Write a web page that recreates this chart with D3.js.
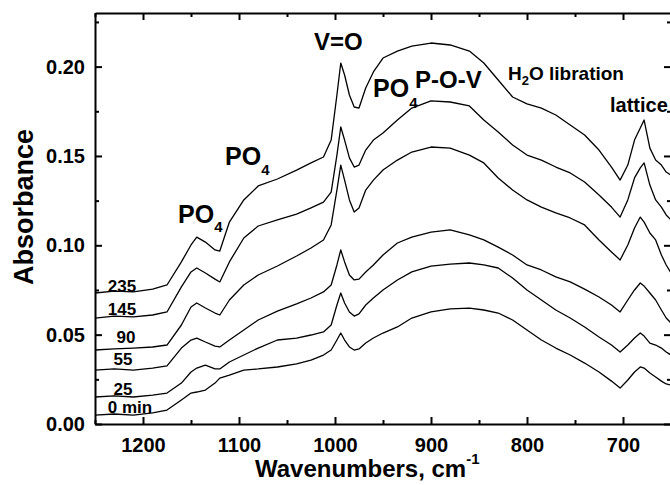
<!DOCTYPE html>
<html>
<head>
<meta charset="utf-8">
<script src="https://cdn.jsdelivr.net/npm/d3@7"></script>
<style>
  body { margin: 0; background: #fff; }
  text { font-family: "Liberation Sans", Arial, sans-serif; font-weight: bold; fill: #000; }
</style>
</head>
<body>
<div id="chart"></div>
<script>
// wavenumber grid (cm-1) shared by all spectra
const wavenumbers = [1250, 1230, 1210, 1190, 1175, 1160, 1150, 1144, 1135, 1125,
  1120, 1110, 1095, 1080, 1060, 1040, 1025, 1012, 1004, 998,
  994, 990, 985, 980, 975, 968, 960, 950, 935, 920,
  900, 880, 860, 845, 830, 815, 800, 785, 770, 755,
  740, 725, 712, 703, 695, 688, 682, 678, 672, 666,
  660, 655, 650];

// absorbance, one array per time (min)
const abs235 = [0.0733, 0.0744, 0.0739, 0.0755, 0.0778, 0.0907, 0.1002, 0.1046, 0.1018, 0.0974,
  0.0968, 0.1130, 0.1254, 0.1332, 0.1371, 0.1421, 0.1461, 0.1494, 0.1589, 0.1841,
  0.2020, 0.1953, 0.1841, 0.1774, 0.1768, 0.1880, 0.1970, 0.2048, 0.2087, 0.2115,
  0.2132, 0.2121, 0.2087, 0.2020, 0.1925, 0.1830, 0.1791, 0.1768, 0.1729, 0.1673,
  0.1617, 0.1533, 0.1438, 0.1365, 0.1449, 0.1589, 0.1656, 0.1701, 0.1544, 0.1477,
  0.1449, 0.1410, 0.1393];
const abs145 = [0.0593, 0.0604, 0.0599, 0.0610, 0.0627, 0.0767, 0.0851, 0.0873, 0.0845, 0.0811,
  0.0795, 0.0907, 0.1041, 0.1108, 0.1142, 0.1175, 0.1209, 0.1242, 0.1298, 0.1505,
  0.1662, 0.1589, 0.1489, 0.1438, 0.1449, 0.1533, 0.1589, 0.1628, 0.1701, 0.1768,
  0.1808, 0.1802, 0.1780, 0.1701, 0.1634, 0.1561, 0.1505, 0.1477, 0.1438, 0.1405,
  0.1354, 0.1281, 0.1214, 0.1158, 0.1254, 0.1377, 0.1433, 0.1461, 0.1337, 0.1254,
  0.1214, 0.1170, 0.1142];
const abs90 = [0.0414, 0.0420, 0.0425, 0.0431, 0.0442, 0.0554, 0.0655, 0.0677, 0.0649, 0.0621,
  0.0610, 0.0694, 0.0778, 0.0834, 0.0884, 0.0940, 0.0985, 0.1030, 0.1114, 0.1309,
  0.1449, 0.1365, 0.1254, 0.1186, 0.1209, 0.1309, 0.1365, 0.1421, 0.1477, 0.1522,
  0.1550, 0.1544, 0.1505, 0.1461, 0.1377, 0.1309, 0.1254, 0.1214, 0.1181, 0.1153,
  0.1114, 0.1030, 0.0963, 0.0918, 0.1002, 0.1097, 0.1158, 0.1130, 0.1069, 0.1030,
  0.0946, 0.0890, 0.0845];
const abs55 = [0.0302, 0.0308, 0.0302, 0.0313, 0.0325, 0.0425, 0.0470, 0.0481, 0.0459, 0.0436,
  0.0431, 0.0470, 0.0526, 0.0582, 0.0632, 0.0672, 0.0705, 0.0739, 0.0778, 0.0890,
  0.0974, 0.0907, 0.0834, 0.0806, 0.0811, 0.0851, 0.0890, 0.0946, 0.1013, 0.1046,
  0.1074, 0.1086, 0.1058, 0.1030, 0.0990, 0.0946, 0.0890, 0.0862, 0.0823, 0.0795,
  0.0755, 0.0711, 0.0666, 0.0627, 0.0694, 0.0750, 0.0789, 0.0772, 0.0733, 0.0694,
  0.0638, 0.0593, 0.0565];
const abs25 = [0.0151, 0.0157, 0.0151, 0.0162, 0.0173, 0.0229, 0.0291, 0.0313, 0.0330, 0.0308,
  0.0308, 0.0347, 0.0386, 0.0425, 0.0470, 0.0481, 0.0498, 0.0515, 0.0554, 0.0666,
  0.0733, 0.0677, 0.0627, 0.0604, 0.0616, 0.0666, 0.0705, 0.0750, 0.0806, 0.0851,
  0.0884, 0.0895, 0.0901, 0.0890, 0.0873, 0.0817, 0.0750, 0.0694, 0.0638, 0.0593,
  0.0543, 0.0487, 0.0442, 0.0403, 0.0442, 0.0481, 0.0509, 0.0492, 0.0453, 0.0442,
  0.0425, 0.0403, 0.0386];
const abs0 = [0.0050, 0.0056, 0.0050, 0.0062, 0.0078, 0.0134, 0.0173, 0.0179, 0.0190, 0.0229,
  0.0257, 0.0274, 0.0302, 0.0308, 0.0319, 0.0336, 0.0358, 0.0386, 0.0414, 0.0470,
  0.0509, 0.0470, 0.0431, 0.0414, 0.0420, 0.0453, 0.0481, 0.0509, 0.0543, 0.0593,
  0.0627, 0.0644, 0.0649, 0.0638, 0.0621, 0.0582, 0.0526, 0.0470, 0.0425, 0.0386,
  0.0341, 0.0291, 0.0240, 0.0201, 0.0246, 0.0291, 0.0319, 0.0313, 0.0285, 0.0263,
  0.0240, 0.0224, 0.0218];

const seriesValues = [abs235, abs145, abs90, abs55, abs25, abs0];
const seriesLabels = ["235", "145", "90", "55", "25", "0 min"];

const xMajorTicks = [1200, 1100, 1000, 900, 800, 700];
const xMinorTicks = [1250, 1150, 1050, 950, 850, 750, 650];
const yMajorTicks = [0.00, 0.05, 0.10, 0.15, 0.20];
const yMinorTicks = [0.025, 0.075, 0.125, 0.175, 0.225];

const width = 670, height = 485;
const margin = { top: 13, right: -1, bottom: 61, left: 95 };
const innerWidth = width - margin.left - margin.right;
const innerHeight = height - margin.top - margin.bottom;

const svg = d3.select("#chart").append("svg")
  .attr("width", width)
  .attr("height", height);

const g = svg.append("g")
  .attr("transform", `translate(${margin.left}, ${margin.top})`);

const x = d3.scaleLinear().domain([1250, 650]).range([0, innerWidth]);
const y = d3.scaleLinear().domain([0, 0.23]).range([innerHeight, 0]);

// spectra
const line = d3.line()
  .x((d, i) => x(wavenumbers[i]))
  .y(d => y(d));

g.selectAll("path.spectrum")
  .data(seriesValues)
  .join("path")
  .attr("class", "spectrum")
  .attr("d", line)
  .attr("fill", "none")
  .attr("stroke", "#000")
  .attr("stroke-width", 1.3)
  .attr("stroke-linejoin", "round");

// axes: ticks point inward on all four sides
function styleAxis(sel, fontSize) {
  sel.selectAll(".tick line").attr("stroke", "#000").attr("stroke-width", 2);
  if (fontSize > 0) sel.selectAll(".tick text").style("font-size", fontSize + "px");
  else sel.selectAll(".tick text").remove();
  sel.select(".domain").attr("stroke", "#000").attr("stroke-width", 2);
}

g.append("g")
  .attr("transform", `translate(0, ${innerHeight})`)
  .call(d3.axisBottom(x).tickValues(xMajorTicks).tickSize(-7).tickSizeOuter(0)
    .tickPadding(14).tickFormat(d3.format("d")))
  .call(s => styleAxis(s, 20));

g.append("g")
  .attr("transform", `translate(0, ${innerHeight})`)
  .call(d3.axisBottom(x).tickValues(xMinorTicks).tickSize(-4).tickSizeOuter(0))
  .call(s => { styleAxis(s, 0); s.select(".domain").remove(); });

g.append("g")
  .call(d3.axisTop(x).tickValues(xMajorTicks).tickSize(-7).tickSizeOuter(0))
  .call(s => styleAxis(s, 0));

g.append("g")
  .call(d3.axisTop(x).tickValues(xMinorTicks).tickSize(-4).tickSizeOuter(0))
  .call(s => { styleAxis(s, 0); s.select(".domain").remove(); });

g.append("g")
  .call(d3.axisLeft(y).tickValues(yMajorTicks).tickSize(-7).tickSizeOuter(0)
    .tickPadding(10).tickFormat(d3.format(".2f")))
  .call(s => styleAxis(s, 20));

g.append("g")
  .call(d3.axisLeft(y).tickValues(yMinorTicks).tickSize(-4).tickSizeOuter(0))
  .call(s => { styleAxis(s, 0); s.select(".domain").remove(); });

g.append("g")
  .attr("transform", `translate(${innerWidth}, 0)`)
  .call(d3.axisRight(y).tickValues(yMajorTicks).tickSize(-7).tickSizeOuter(0))
  .call(s => { styleAxis(s, 0); s.select(".domain").remove(); });

g.append("g")
  .attr("transform", `translate(${innerWidth}, 0)`)
  .call(d3.axisRight(y).tickValues(yMinorTicks).tickSize(-4).tickSizeOuter(0))
  .call(s => { styleAxis(s, 0); s.select(".domain").remove(); });

// axis titles
svg.append("text")
  .attr("transform", `translate(33, 207) rotate(-90)`)
  .attr("text-anchor", "middle")
  .style("font-size", "27px")
  .text("Absorbance");

const xTitle = svg.append("text")
  .attr("x", 255)
  .attr("y", 477)
  .style("font-size", "24px")
  .text("Wavenumbers, cm");
xTitle.append("tspan")
  .attr("dy", -13)
  .style("font-size", "15px")
  .text("-1");

// curve labels (time in minutes)
const labelX = [122, 122, 126, 123, 123, 130];
const labelDy = [-1, -3, -7, -5, -2, -2];
g.selectAll("text.curve-label")
  .data(seriesLabels)
  .join("text")
  .attr("class", "curve-label")
  .attr("x", (d, i) => labelX[i] - margin.left)
  .attr("y", (d, i) => y(seriesValues[i][0]) + labelDy[i])
  .attr("text-anchor", "middle")
  .style("font-size", "17px")
  .text(d => d);

// band assignments
function subLabel(px, py, main, sub, size, subSize, subDy) {
  const t = svg.append("text").attr("x", px).attr("y", py).style("font-size", size + "px");
  t.append("tspan").text(main[0]);
  t.append("tspan").attr("dy", subDy).style("font-size", subSize + "px").text(sub);
  t.append("tspan").attr("dy", -subDy).text(main[1]);
  return t;
}

svg.append("text").attr("x", 314).attr("y", 50).style("font-size", "24px").text("V=O");
subLabel(178, 223, ["PO", ""], "4", 25, 15, 9);
subLabel(225, 165, ["PO", ""], "4", 25, 15, 10);
subLabel(373, 97, ["PO", ""], "4", 25, 15, 11);
svg.append("text").attr("x", 415).attr("y", 88).style("font-size", "24px").text("P-O-V");
subLabel(508, 80, ["H", "O libration"], "2", 19, 13, 5);
svg.append("text").attr("x", 610).attr("y", 112).style("font-size", "20px").text("lattice");
</script>
</body>
</html>
